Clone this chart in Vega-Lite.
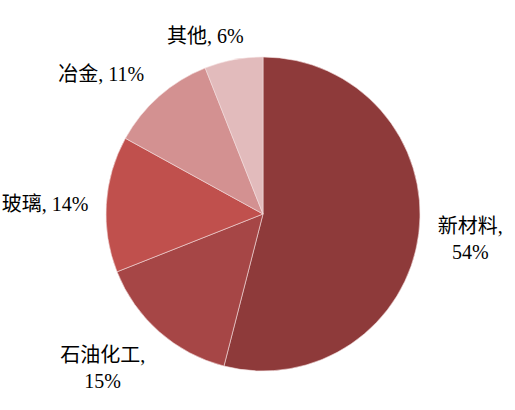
{
  "$schema": "https://vega.github.io/schema/vega-lite/v6.json",
  "width": 504,
  "height": 392,
  "autosize": "none",
  "padding": {"left": 11, "top": 18, "right": 0, "bottom": 0},
  "background": "white",
  "data": {
    "values": [
      {"cat": "新材料", "share": 54, "rank": 1, "label": "新材料,\n54%"},
      {"cat": "石油化工", "share": 15, "rank": 2, "label": "石油化工,\n15%"},
      {"cat": "玻璃", "share": 14, "rank": 3, "label": "玻璃, 14%"},
      {"cat": "冶金", "share": 11, "rank": 4, "label": "冶金, 11%"},
      {"cat": "其他", "share": 6, "rank": 5, "label": "其他, 6%"}
    ]
  },
  "encoding": {
    "theta": {"field": "share", "type": "quantitative", "stack": true},
    "order": {"field": "rank", "type": "quantitative"}
  },
  "layer": [
    {
      "mark": {"type": "arc", "outerRadius": 157, "stroke": "#f4dede", "strokeWidth": 0.6},
      "encoding": {
        "color": {
          "field": "cat",
          "type": "nominal",
          "legend": null,
          "scale": {
            "domain": ["新材料", "石油化工", "玻璃", "冶金", "其他"],
            "range": ["#8e3a3a", "#a64646", "#c0504d", "#d39191", "#e2bbbc"]
          }
        }
      }
    },
    {
      "mark": {"type": "text", "font": "Liberation Serif, Noto Sans CJK SC", "fontSize": 20, "color": "#000000", "lineBreak": "\n", "lineHeight": 26, "radius": 209, "dy": -13},
      "encoding": {
        "text": {"condition": {"test": "datum.cat == '新材料'", "field": "label"}, "value": ""}
      }
    },
    {
      "mark": {"type": "text", "font": "Liberation Serif, Noto Sans CJK SC", "fontSize": 20, "color": "#000000", "lineBreak": "\n", "lineHeight": 26, "radius": 223, "thetaOffset": 0.08, "dy": -13},
      "encoding": {
        "text": {"condition": {"test": "datum.cat == '石油化工'", "field": "label"}, "value": ""}
      }
    },
    {
      "mark": {"type": "text", "font": "Liberation Serif, Noto Sans CJK SC", "fontSize": 20, "color": "#000000", "radius": 218, "thetaOffset": -0.02},
      "encoding": {
        "text": {"condition": {"test": "datum.cat == '玻璃'", "field": "label"}, "value": ""}
      }
    },
    {
      "mark": {"type": "text", "font": "Liberation Serif, Noto Sans CJK SC", "fontSize": 20, "color": "#000000", "radius": 213, "thetaOffset": -0.14},
      "encoding": {
        "text": {"condition": {"test": "datum.cat == '冶金'", "field": "label"}, "value": ""}
      }
    },
    {
      "mark": {"type": "text", "font": "Liberation Serif, Noto Sans CJK SC", "fontSize": 20, "color": "#000000", "radius": 186, "thetaOffset": -0.127},
      "encoding": {
        "text": {"condition": {"test": "datum.cat == '其他'", "field": "label"}, "value": ""}
      }
    }
  ]
}
